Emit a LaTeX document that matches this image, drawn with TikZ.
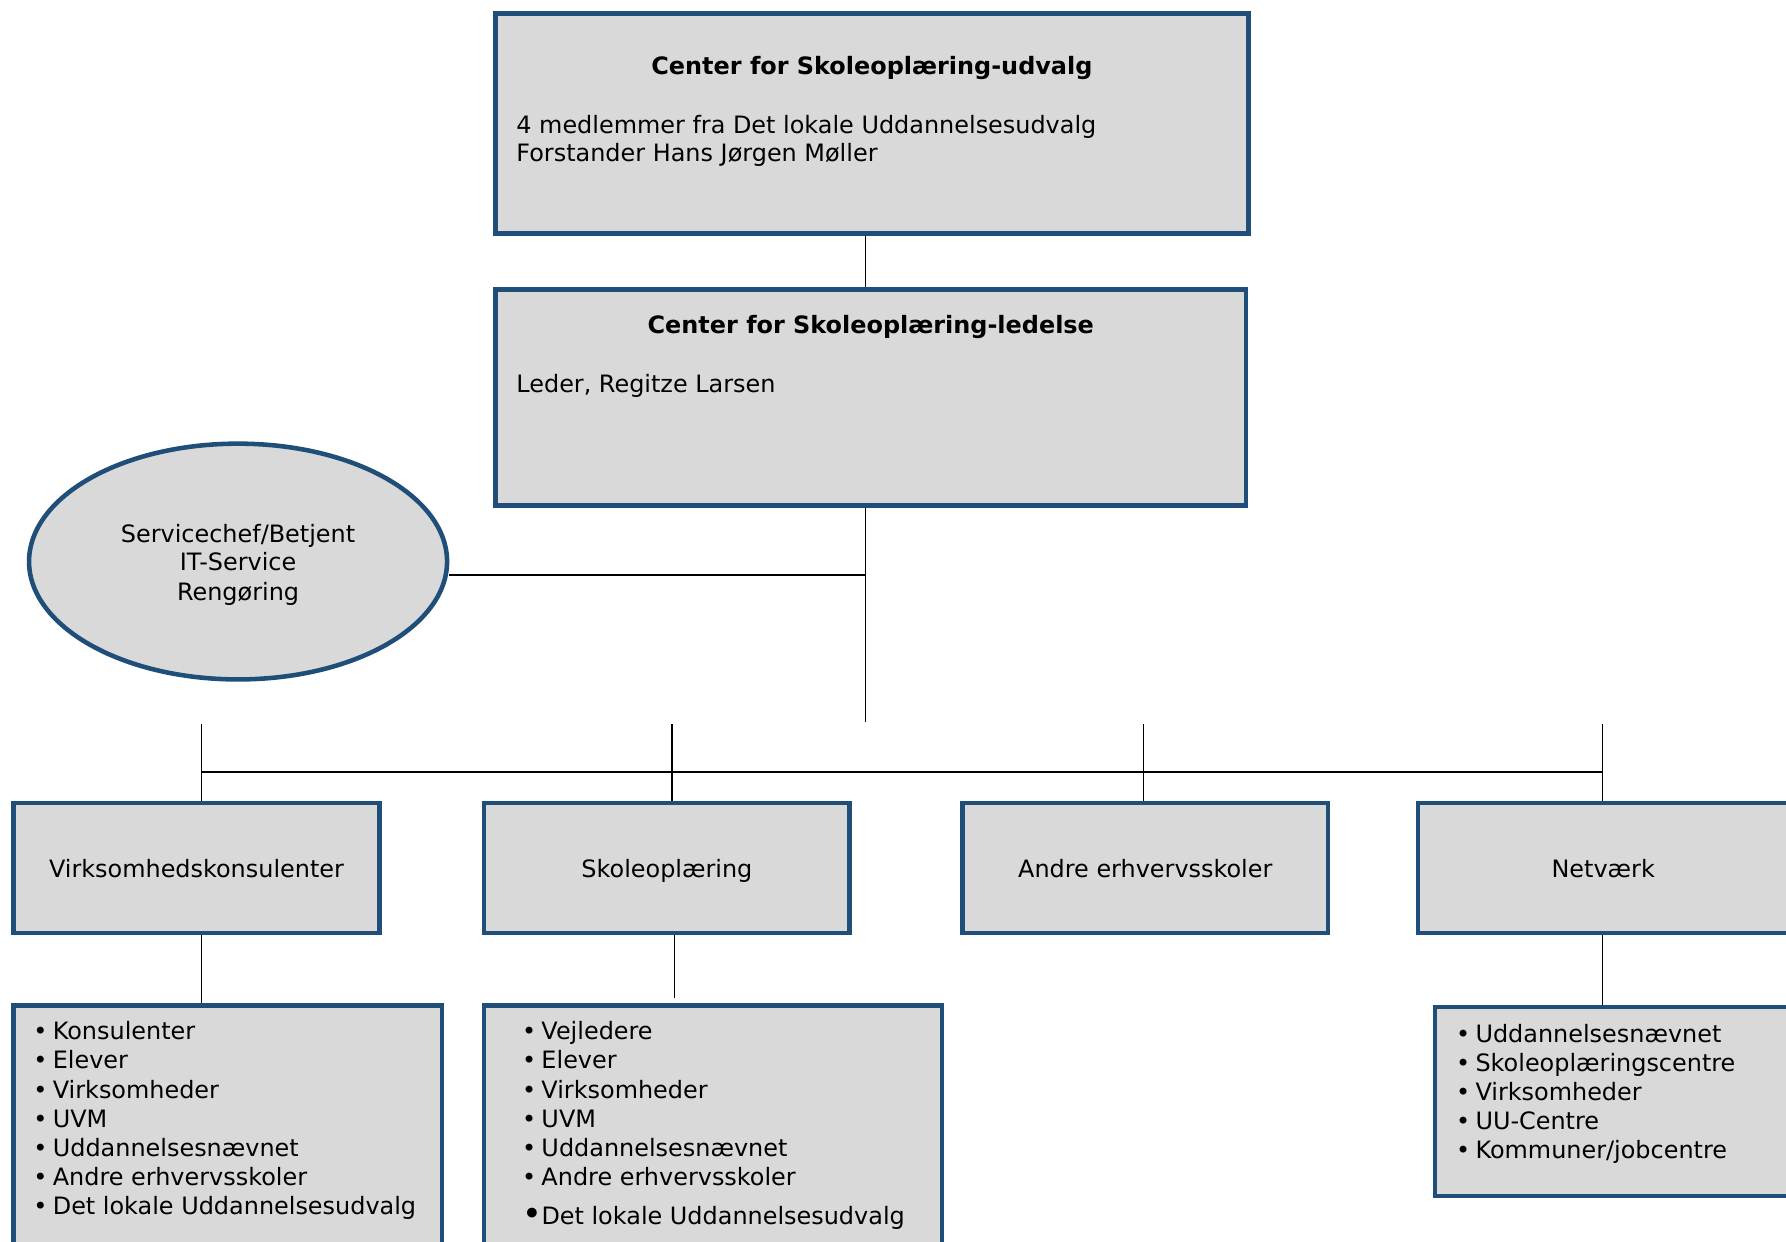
\documentclass[tikz,border=0pt]{standalone}
\usepackage{fontspec}
\setmainfont{DejaVu Sans}
\usetikzlibrary{shapes.geometric}
\definecolor{boxfill}{HTML}{D9D9D9}
\definecolor{boxline}{HTML}{1F4E79}
\tikzset{
  orgbox/.style={rectangle, draw=boxline, fill=boxfill, line width=2pt, inner sep=0pt},
  orgell/.style={ellipse, draw=boxline, fill=boxfill, line width=2pt, inner sep=0pt},
  conn/.style={draw=black, line width=0.7pt},
  txt/.style={inner sep=0pt, font=\fontsize{10.5}{12.75}\selectfont},
  lst/.style={inner sep=0pt, align=left, anchor=base west, font=\fontsize{10.5}{12.75}\selectfont}
}
\newcommand{\bul}{\makebox[8.5pt][l]{•}}
\begin{document}
\begin{tikzpicture}[x=0.5pt, y=-0.5pt]
\useasboundingbox (0,0) rectangle (1568,1090);
\clip (0,0) rectangle (1568,1090);
% boxes
\node[orgbox, minimum width=661*0.5pt, minimum height=193*0.5pt] (udv) at (765.5,108.5) {};
\node[orgbox, minimum width=659*0.5pt, minimum height=190*0.5pt] (led) at (764.5,349) {};
\node[orgell, minimum width=367*0.5pt, minimum height=207*0.5pt] (ell) at (209,493) {};
\node[orgbox, minimum width=321*0.5pt, minimum height=114*0.5pt] (vk) at (172.5,762) {};
\node[orgbox, minimum width=321*0.5pt, minimum height=114*0.5pt] (sk) at (585.5,762) {};
\node[orgbox, minimum width=321*0.5pt, minimum height=114*0.5pt] (an) at (1005.5,762) {};
\node[orgbox, minimum width=325*0.5pt, minimum height=114*0.5pt] (nt) at (1407.5,762) {};
\node[orgbox, minimum width=376*0.5pt, minimum height=227*0.5pt] (l1) at (200,996.5) {};
\node[orgbox, minimum width=402*0.5pt, minimum height=227*0.5pt] (l2) at (626,996.5) {};
\node[orgbox, minimum width=340*0.5pt, minimum height=166*0.5pt] (l3) at (1430,967) {};
% texts
\node[txt, anchor=base, font=\fontsize{10.5}{12.75}\selectfont\bfseries] (t1) at (765.5,65) {Center for Skoleoplæring-udvalg};
\node[txt, anchor=base west] (t1a) at (453,117) {4 medlemmer fra Det lokale Uddannelsesudvalg};
\node[txt, anchor=base west] (t1b) at (453,142) {Forstander Hans Jørgen Møller};
\node[txt, anchor=base, font=\fontsize{10.5}{12.75}\selectfont\bfseries] (t2) at (764.5,293) {Center for Skoleoplæring-ledelse};
\node[txt, anchor=base west] (t2a) at (453,345) {Leder, Regitze Larsen};
\node[txt, anchor=base] (e1) at (209,476) {Servicechef/Betjent};
\node[txt, anchor=base] (e2) at (209,501) {IT-Service};
\node[txt, anchor=base] (e3) at (209,527) {Rengøring};
\node[txt, anchor=base] (tvk) at (172.5,770) {Virksomhedskonsulenter};
\node[txt, anchor=base] (tsk) at (585.5,770) {Skoleoplæring};
\node[txt, anchor=base] (tan) at (1005.5,770) {Andre erhvervsskoler};
\node[txt, anchor=base] (tnt) at (1407.5,770) {Netværk};
\node[lst] (li1) at (29,1066) {\bul Konsulenter\\ \bul Elever\\ \bul Virksomheder\\ \bul UVM\\ \bul Uddannelsesnævnet\\ \bul Andre erhvervsskoler\\ \bul Det lokale Uddannelsesudvalg};
\node[lst] (li2) at (458,1040.5) {\bul Vejledere\\ \bul Elever\\ \bul Virksomheder\\ \bul UVM\\ \bul Uddannelsesnævnet\\ \bul Andre erhvervsskoler};
\node[txt, anchor=base west] (li2b) at (458,1075) {\makebox[8.5pt][l]{\raisebox{-0.5pt}{\scalebox{1.4}{•}}}Det lokale Uddannelsesudvalg};
\node[lst] (li3) at (1278,1017) {\bul Uddannelsesnævnet\\ \bul Skoleoplæringscentre\\ \bul Virksomheder\\ \bul UU-Centre\\ \bul Kommuner/jobcentre};
% connectors
\coordinate (J) at (760,505);
\coordinate (Jend) at (760,634);
\coordinate (s1) at (177,636);
\coordinate (s2) at (590,636);
\coordinate (s3) at (1004,636);
\coordinate (s4) at (1407,636);
\coordinate (bus1) at (177,678);
\coordinate (bus4) at (1407,678);
\coordinate (l2end) at (592,876);
\draw[conn] (udv.south -| J) -- (led.north -| J);
\draw[conn] (led.south -| J) -- (Jend);
\draw[conn] (J) -- (J -| ell.east);
\draw[conn] (bus1) -- (bus4);
\draw[conn] (s1) -- (s1 |- vk.north);
\draw[conn] (s2) -- (s2 |- sk.north);
\draw[conn] (s3) -- (s3 |- an.north);
\draw[conn] (s4) -- (s4 |- nt.north);
\draw[conn] (vk.south -| s1) -- (l1.north -| s1);
\draw[conn] (sk.south -| l2end) -- (l2end);
\draw[conn] (nt.south -| s4) -- (l3.north -| s4);
\end{tikzpicture}
\end{document}
